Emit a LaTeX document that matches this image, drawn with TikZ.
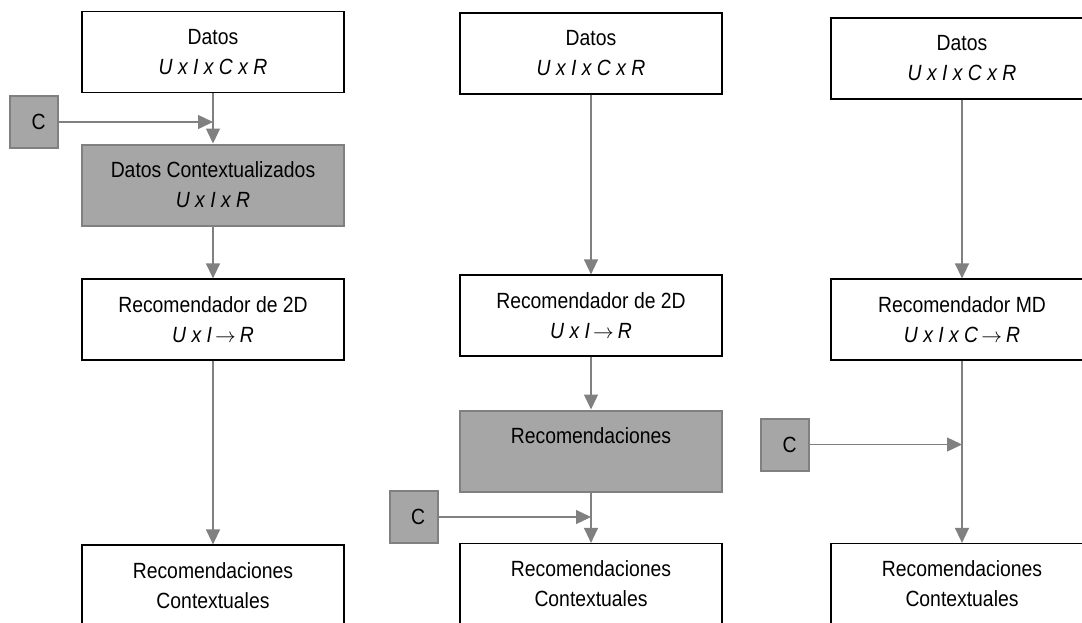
\documentclass[tikz,border=0pt]{standalone}
\usepackage{fontspec}
\setmainfont{Liberation Sans}[FakeStretch=0.88]
\usetikzlibrary{arrows.meta}

\definecolor{boxgray}{HTML}{A6A6A6}
\definecolor{edgegray}{HTML}{808080}

% thin long arrow between the terms of a mapping
\newcommand{\mapsarrow}{\kern3pt$\rightarrow$\kern4pt}

\begin{document}
\begin{tikzpicture}[x=1pt, y=-1pt,
  every node/.style={font=\fontsize{22}{30}\selectfont},
  plain/.style={draw=black, line width=1.2pt, fill=white,
    minimum width=262pt, minimum height=81pt, inner sep=0pt, align=center},
  shaded/.style={plain, draw=edgegray, line width=2pt, fill=boxgray},
  ctx/.style={draw=edgegray, line width=2pt, fill=boxgray,
    minimum width=48pt, minimum height=52pt, inner sep=0pt},
  flow/.style={draw=edgegray, line width=1.3pt,
    -{Triangle[length=15pt,width=14pt]}},
]
\useasboundingbox (0,0) rectangle (1082,622);
\clip (0,0) rectangle (1082,622);

% Column 1: context applied before the 2D recommender (pre-filtering)
\node[plain]  (d1)  at (213,52)    {Datos\\\textit{U x I x C x R}};
\node[shaded] (dc1) at (213,185)   {Datos Contextualizados\\\textit{U x I x R}};
\node[plain]  (r1)  at (213,319.5) {Recomendador de 2D\\\textit{U x I}\mapsarrow\textit{R}};
\node[plain]  (rc1) at (213,585.5) {Recomendaciones\\Contextuales};
\node[ctx]    (c1)  at (34,122)    {\kern9pt C};

\draw[flow] (d1.south) -- (dc1.north);
\draw[flow] (c1.east) -- (d1.south |- c1.east);
\draw[flow] (dc1.south) -- (r1.north);
\draw[flow] (r1.south) -- (rc1.north);

% Column 2: context applied after the 2D recommender (post-filtering)
\node[plain]  (d2)   at (591,53.5)  {Datos\\\textit{U x I x C x R}};
\node[plain]  (r2)   at (591,315.5) {Recomendador de 2D\\\textit{U x I}\mapsarrow\textit{R}};
\node[shaded] (rec2) at (591,451)   {Recomendaciones\\\mbox{}};
\node[plain]  (rc2)  at (591,584)   {Recomendaciones\\Contextuales};
\node[ctx]    (c2)   at (413.5,517) {\kern9pt C};

\draw[flow] (d2.south) -- (r2.north);
\draw[flow] (r2.south) -- (rec2.north);
\draw[flow] (rec2.south) -- (rc2.north);
\draw[flow] (c2.east) -- (rec2.south |- c2.east);

% Column 3: multidimensional recommender (contextual modelling)
\node[plain] (d3)  at (962,58.5)  {Datos\\\textit{U x I x C x R}};
\node[plain] (r3)  at (962,319.5) {Recomendador MD\\\textit{U x I x C}\mapsarrow\textit{R}};
\node[plain] (rc3) at (962,584)   {Recomendaciones\\Contextuales};
\node[ctx]   (c3)  at (785,444.5) {\kern9pt C};

\draw[flow] (d3.south) -- (r3.north);
\draw[flow] (r3.south) -- (rc3.north);
\draw[flow] (c3.east) -- (r3.south |- c3.east);
\end{tikzpicture}
\end{document}
